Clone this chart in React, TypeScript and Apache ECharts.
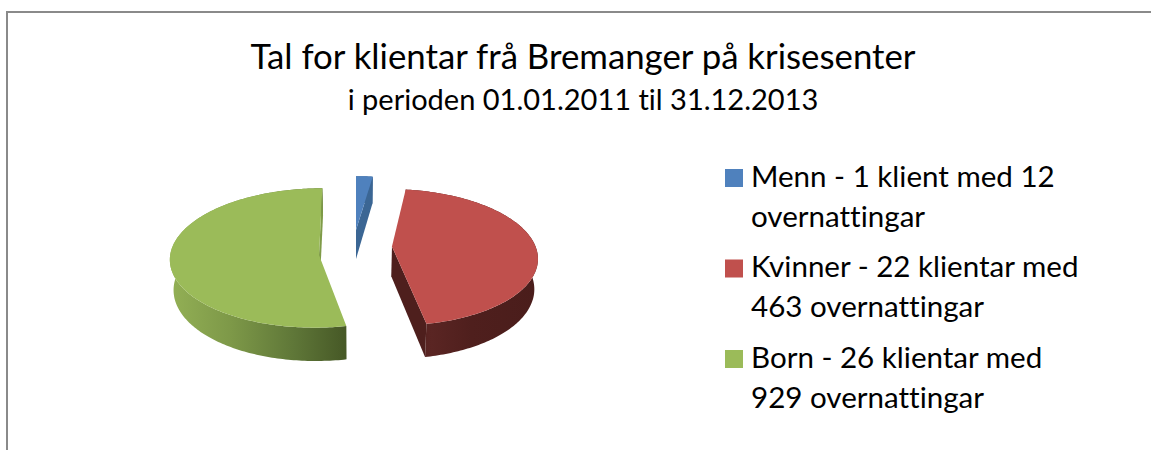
import React, { useEffect, useRef } from "react";
import * as echarts from "echarts";

const titleText = "Tal for klientar frå Bremanger på krisesenter";
const subtitleText = "i perioden 01.01.2011 til 31.12.2013";
const categories = ["Menn", "Kvinner", "Born"];
const clients = [1, 22, 26];
const legendLabels = [
  "Menn - 1 klient med 12\novernattingar",
  "Kvinner - 22 klientar med\n463 overnattingar",
  "Born - 26 klientar med\n929 overnattingar",
];

const topColors = ["#4f81bd", "#c0504d", "#9bbb59"];
const FONT = "Lato, Carlito, Calibri, sans-serif";

// projection of the tilted disc
const X0 = 356, Y0 = 251, TILT = 69, PERSP = 0.1, BASE_R = 148, DEPTH = 30, SHRINK = 0.02;
// per-slice explode offset, radius, tip correction
const sliceGeom = [
  { ox: 0, oy: -33, r: 147, tipDy: -6 },
  { ox: 36, oy: -1, r: 145, tipDy: -4 },
  { ox: -37, oy: 0, r: 148, tipDy: 4 },
];

const project = (px: number, py: number): [number, number] => {
  const t = py / BASE_R;
  const s = 1 / (1 - PERSP * t);
  return [X0 + px * s, Y0 + TILT * t * s];
};
const drop = (p: [number, number]): [number, number] => {
  const t = (p[1] - Y0) / TILT;
  const s = 1 + PERSP * Math.max(-1.3, Math.min(1.3, t));
  return [X0 + (p[0] - X0) * (1 - SHRINK), p[1] + DEPTH * s];
};

const total = clients.reduce((a, b) => a + b, 0);
const startOf = (i: number) => clients.slice(0, i).reduce((a, b) => a + b, 0);

const wallFills: any[] = [
  "#3b6694",
  new echarts.graphic.LinearGradient(0, 0, 1, 0, [
    { offset: 0, color: "#4c1e1c" },
    { offset: 0.2, color: "#5a2523" },
    { offset: 0.5, color: "#4f1f1d" },
    { offset: 1, color: "#4a1d1b" },
  ]),
  new echarts.graphic.LinearGradient(0, 0, 1, 0, [
    { offset: 0, color: "#93b055" },
    { offset: 0.35, color: "#7d9848" },
    { offset: 0.7, color: "#5f7738" },
    { offset: 1, color: "#465826" },
  ]),
];
const radialFills = ["#3b6694", "#4e1f1d", "#7f9b48"];

const renderSlice = (sliceIndex: number) => (_p: any, api: any) => {
  const value = api.value(0);
  const g = sliceGeom[sliceIndex];
  const a0 = (startOf(sliceIndex) / total) * 360;
  const a1 = a0 + (value / total) * 360;
  const rim: [number, number][] = [];
  const steps = Math.max(4, Math.ceil(a1 - a0));
  for (let i = 0; i <= steps; i++) {
    const a = ((a0 + ((a1 - a0) * i) / steps) * Math.PI) / 180;
    rim.push(project(g.ox + g.r * Math.sin(a), g.oy - g.r * Math.cos(a)));
  }
  const t0 = project(g.ox, g.oy);
  const tip: [number, number] = [t0[0], t0[1] + g.tipDy];
  const rimBottom = rim.map(drop);
  const tipBottom = drop(tip);
  const last = rim[rim.length - 1];
  const children: any[] = [
    // outer side wall
    {
      type: "polygon",
      shape: { points: [...rim, ...rimBottom.slice().reverse()] },
      style: { fill: wallFills[sliceIndex] },
    },
    // radial wall at the slice end
    {
      type: "polygon",
      shape: { points: [tip, last, rimBottom[rimBottom.length - 1], tipBottom] },
      style: { fill: radialFills[sliceIndex] },
    },
    // top surface
    {
      type: "polygon",
      shape: { points: [tip, ...rim] },
      style: { fill: topColors[sliceIndex] },
    },
  ];
  return { type: "group", children };
};

export default function App() {
  const ref = useRef<HTMLDivElement>(null);
  useEffect(() => {
    document.body.style.margin = "0";
    document.body.style.background = "#ffffff";
    const chart = echarts.init(ref.current!, undefined, { renderer: "svg" });
    chart.setOption({
      animation: false,
      backgroundColor: "#ffffff",
      title: [
        {
          text: titleText,
          left: 578,
          top: 33,
          textAlign: "center",
          textStyle: { fontFamily: FONT, fontSize: 34.8, fontWeight: "normal", color: "#000000" },
        },
        {
          text: subtitleText,
          left: 578,
          top: 79,
          textAlign: "center",
          textStyle: { fontFamily: FONT, fontSize: 29, fontWeight: "normal", color: "#000000" },
        },
      ],
      legend: {
        orient: "vertical",
        left: 725,
        top: 155,
        padding: 0,
        itemGap: 10.5,
        itemWidth: 21,
        itemHeight: 80,
        icon: "path://M0 14H18V32H0Z M0 0L0 0 M21 80L21 80",
        selectedMode: false,
        textStyle: { fontFamily: FONT, fontSize: 29.55, color: "#000000", lineHeight: 40 },
        data: legendLabels,
      },
      graphic: [
        {
          type: "polyline",
          silent: true,
          shape: { points: [[7, 450], [7, 12], [1151, 12]] },
          style: { stroke: "#8a8a8a", lineWidth: 2, fill: "none" },
        },
      ],
      series: categories.map((c, i) => ({
        type: "custom",
        name: legendLabels[i],
        coordinateSystem: "none",
        silent: true,
        itemStyle: { color: topColors[i] },
        renderItem: renderSlice(i),
        data: [[clients[i]]],
      })),
    });
    return () => chart.dispose();
  }, []);
  return <div ref={ref} style={{ width: 1151, height: 450, fontVariantLigatures: "none" }} />;
}
